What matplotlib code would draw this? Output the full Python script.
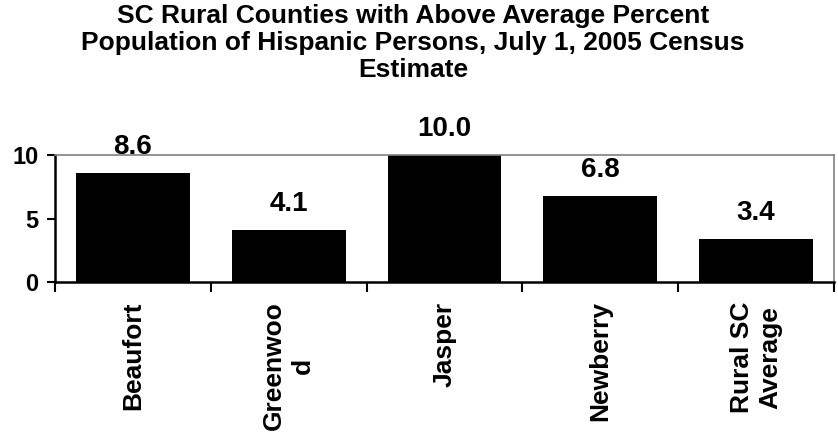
import matplotlib.pyplot as plt

counties = ['Beaufort', 'Greenwoo\nd', 'Jasper', 'Newberry', 'Rural SC\nAverage']
pct_hispanic = [8.6, 4.1, 10.0, 6.8, 3.4]
value_labels = ['8.6', '4.1', '10.0', '6.8', '3.4']

plt.rcParams['font.family'] = ['Liberation Sans', 'DejaVu Sans']
plt.rcParams['font.weight'] = 'bold'

fig = plt.figure(figsize=(8.38, 4.33), dpi=100)
ax = fig.add_axes([55/838, 1-282/433, (834-55)/838, (282-155)/433])

x = list(range(len(counties)))
ax.bar(x, pct_hispanic, width=0.73, color='black', zorder=2)

for xi, v, lab in zip(x, pct_hispanic, value_labels):
    ax.annotate(lab, (xi, v), xytext=(0, 9), textcoords='offset points',
                ha='center', va='bottom', fontsize=20, fontweight='bold')

ax.set_xlim(-0.5, 4.5)
ax.set_ylim(0, 10)
ax.set_yticks([0, 5, 10])
ax.tick_params(axis='y', labelsize=17, length=6, width=1.5, direction='out', pad=6)
# major ticks sit between the categories, names go on minor ticks
ax.set_xticks([i + 0.5 for i in range(-1, 5)], minor=False)
ax.set_xticklabels([])
ax.tick_params(axis='x', length=7, width=1.5, direction='out')
ax.set_xticks(x, minor=True)
ax.set_xticklabels(counties, minor=True, rotation=90, fontsize=19,
                   fontweight='bold', ha='center', va='top', linespacing=1.25)
ax.tick_params(axis='x', which='minor', length=0, pad=14)

for s in ['left', 'bottom']:
    ax.spines[s].set_linewidth(1.8)
    ax.spines[s].set_color('black')
for s in ['top', 'right']:
    ax.spines[s].set_linewidth(1.2)
    ax.spines[s].set_color('#808080')

fig.text(0.493, 0.99, 'SC Rural Counties with Above Average Percent\n'
         'Population of Hispanic Persons, July 1, 2005 Census\nEstimate',
         ha='center', va='top', fontsize=19, fontweight='bold', linespacing=1.15)

fig.savefig('out.png', dpi=100)
